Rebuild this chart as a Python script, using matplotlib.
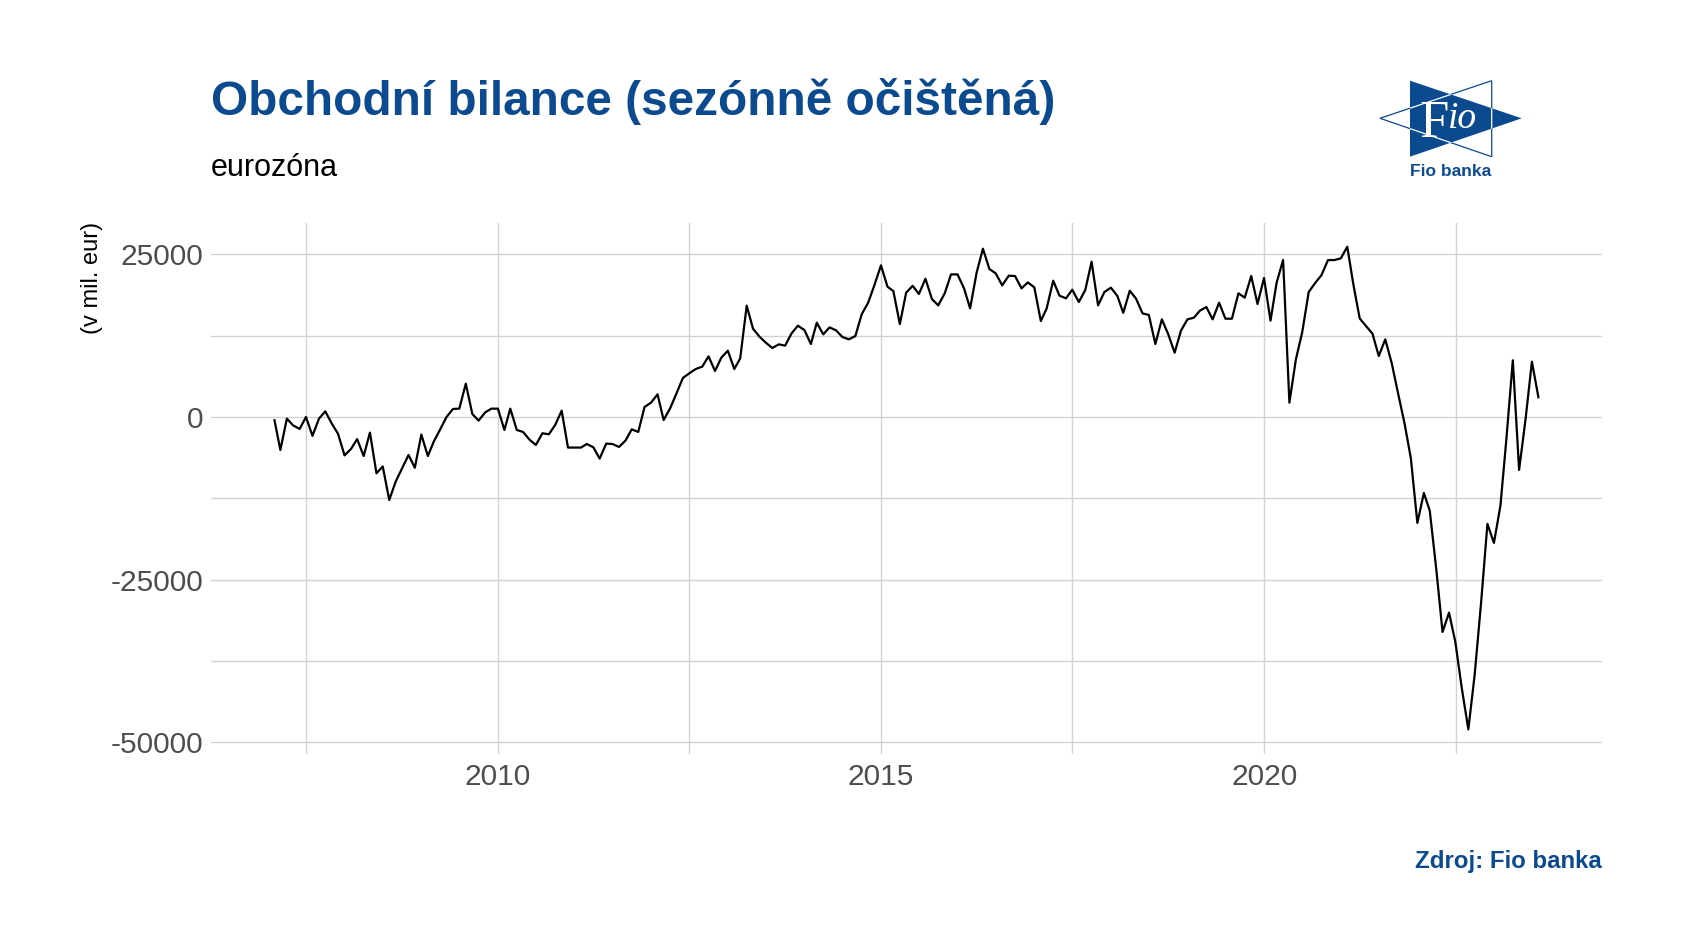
import matplotlib
matplotlib.use('Agg')
import matplotlib.pyplot as plt
from matplotlib.patches import Polygon
import pandas as pd

# Eurozone seasonally adjusted trade balance, mil. EUR, monthly from Jan 2007
balance = [
    -500, -5070, -250, -1300, -1840, 0, -2900, -250, 870, -1000, -2600, -5900,
    -4900, -3400, -6000, -2400, -8650, -7600, -12750, -9900, -7900, -5840, -7800, -2700,
    -6000, -3800, -1900, 0, 1230, 1280, 5120, 460, -560, 700, 1280, 1280,
    -2000, 1280, -2000, -2300, -3500, -4300, -2500, -2660, -1230, 970, -4700, -4700,
    -4700, -4150, -4660, -6400, -4100, -4150, -4600, -3640, -1900, -2300, 1540, 2200,
    3480, -460, 1330, 3600, 6000, 6700, 7370, 7730, 9320, 7070, 9110, 10190,
    7370, 9010, 17100, 13570, 12340, 11420, 10600, 11160, 10960, 12850, 14030, 13360,
    11210, 14490, 12700, 13770, 13310, 12290, 11930, 12440, 15770, 17560, 20280, 23300,
    20020, 19350, 14280, 19100, 20150, 18900, 21250, 18120, 17150, 19000, 21910, 21910,
    19760, 16690, 22170, 25860, 22730, 22070, 20220, 21710, 21660, 19760, 20680, 19920,
    14750, 16690, 20940, 18640, 18230, 19560, 17660, 19510, 23860, 17150, 19200, 19870,
    18590, 16000, 19400, 18180, 15920, 15670, 11210, 15000, 12750, 9880, 13260, 15000,
    15260, 16330, 16900, 15000, 17560, 15100, 15100, 19000, 18330, 21660, 17360, 21350,
    14800, 20630, 24120, 2200, 8860, 13000, 19200, 20600, 21800, 24110, 24110, 24370,
    26160, 20530, 15150, 13980, 12800, 9370, 11930, 8240, 3640, -1000, -6350, -16280,
    -11680, -14390, -23330, -33030, -30070, -34570, -41720, -48000, -39670, -28440, -16430, -19350,
    -13620, -3530, 8710, -8140, -260, 8500, 3030,
]
dates = pd.date_range('2007-01-31', periods=len(balance), freq='ME')

x_major = [pd.Timestamp('2010-01-01'), pd.Timestamp('2015-01-01'), pd.Timestamp('2020-01-01')]
x_major_labels = ['2010', '2015', '2020']
x_minor = [pd.Timestamp(f'{y}-07-01') for y in (2007, 2012, 2017, 2022)]
y_major = [-50000, -25000, 0, 25000]
y_major_labels = ['-50000', '-25000', '0', '25000']
y_minor = [-37500, -12500, 12500]

title = 'Obchodní bilance (sezónně očištěná)'
subtitle = 'eurozóna'
y_label = '(v mil. eur)'
source = 'Zdroj: Fio banka'

BLUE = '#0b4a8f'
GRID = '#d2d2d2'
plt.rcParams['font.family'] = ['Liberation Sans', 'DejaVu Sans']

W, H = 1682, 952
fig = plt.figure(figsize=(W / 100, H / 100), dpi=100)

# main panel
ax = fig.add_axes([211.3 / W, 1 - 753.5 / H, (1601.6 - 211.3) / W, (753.5 - 222.6) / H])
ax.plot(dates, balance, color='black', lw=1.6, zorder=3)
ax.margins(x=0.05, y=0.05)

ax.set_xticks(x_major)
ax.set_xticklabels(x_major_labels)
ax.set_xticks(x_minor, minor=True)
ax.set_yticks(y_major)
ax.set_yticklabels(y_major_labels)
ax.set_yticks(y_minor, minor=True)

ax.grid(which='both', color=GRID, lw=1.0)
ax.set_axisbelow(True)
for s in ax.spines.values():
    s.set_visible(False)
ax.tick_params(which='both', length=0)
ax.tick_params(axis='x', labelsize=21.5, labelcolor='#4d4d4d', pad=6.5)
ax.tick_params(axis='y', labelsize=21.5, labelcolor='#4d4d4d', pad=6)

# texts
fig.text(211 / W, 1 - 115 / H, title, fontsize=34.4, weight='bold', color=BLUE, va='baseline')
fig.text(211 / W, 1 - 176 / H, subtitle, fontsize=22, color='black', va='baseline')
fig.text(92 / W, 1 - 222 / H, y_label, fontsize=17, rotation=90, ha='center', va='top')
fig.text(1601.6 / W, 1 - 868 / H, source, fontsize=17.3, weight='bold', color=BLUE,
         ha='right', va='baseline')

# logo
lax = fig.add_axes([0, 0, 1, 1])
lax.set_xlim(0, W)
lax.set_ylim(H, 0)
lax.axis('off')
left_tri = [(1380, 118.3), (1491.7, 80.7), (1491.7, 156.7)]
right_tri = [(1410, 80.7), (1410, 156.7), (1521.7, 118.3)]
lax.add_patch(Polygon(left_tri, closed=True, fc='white', ec=BLUE, lw=0.9))
rp = Polygon(right_tri, closed=True, fc=BLUE, ec='none')
lax.add_patch(rp)
wl = Polygon(left_tri, closed=True, fill=False, ec='white', lw=0.9)
lax.add_patch(wl)
wl.set_clip_path(rp)
lax.text(1434, 137, 'F', family='Liberation Serif', color='white', fontsize=38,
         ha='center', va='baseline')
lax.text(1462, 128, 'io', family='Liberation Serif', style='italic', color='white',
         fontsize=27, ha='center', va='baseline')
lax.text(1451, 171, 'Fio banka', weight='bold', color=BLUE, fontsize=12.5,
         ha='center', va='center')

fig.savefig('out.png', dpi=100)
